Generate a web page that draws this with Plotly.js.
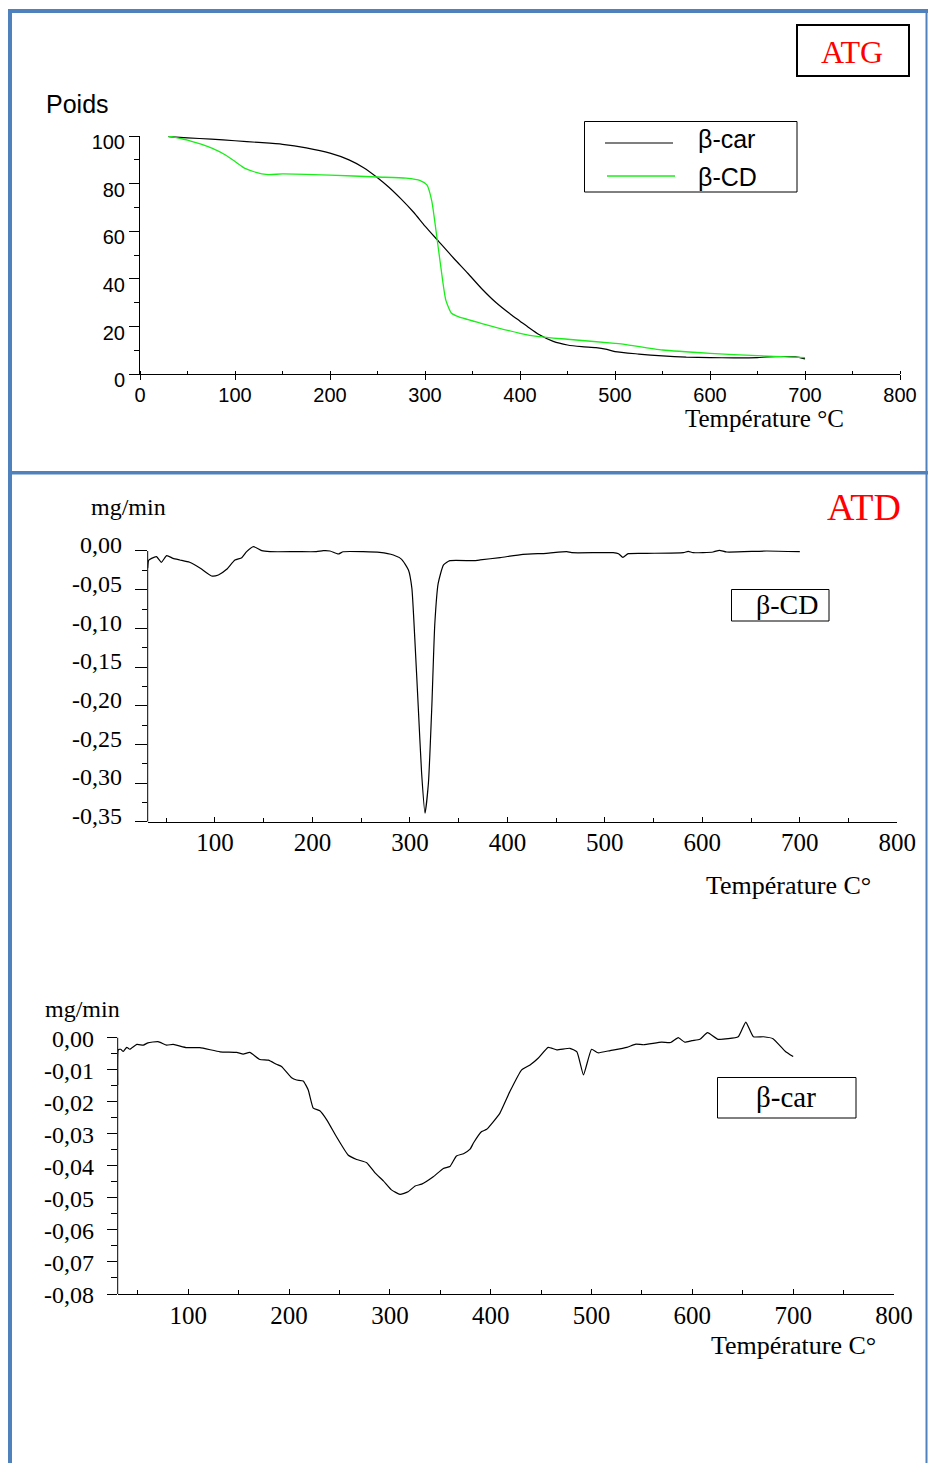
<!DOCTYPE html>
<html>
<head>
<meta charset="utf-8">
<script src="https://cdn.plot.ly/plotly-3.0.1.min.js"></script>
<style>
  html, body { margin: 0; padding: 0; background: #fff; }
  #fig { width: 928px; height: 1463px; }
</style>
</head>
<body>
<div id="fig"></div>
<script>
// ---- ATG : weight loss (%) vs temperature (°C) ----
const atgCarT = [30, 50, 75, 100, 125, 150, 175, 200, 220, 235, 250, 262, 275, 288, 300, 315, 330, 345, 360, 375, 390, 400, 410, 420, 435, 450, 465, 480, 490, 500, 525, 550, 575, 600, 625, 650, 660, 690, 700];
const atgCarW = [99.7, 99.2, 98.7, 98.0, 97.3, 96.5, 95.0, 92.8, 90.0, 86.8, 82.5, 78.5, 73.5, 68.0, 62.2, 55.5, 48.8, 42.4, 35.8, 30.0, 25.2, 22.3, 19.4, 16.7, 13.8, 12.3, 11.6, 11.2, 10.6, 9.5, 8.5, 7.7, 7.2, 7.0, 6.9, 7.0, 7.3, 7.3, 6.5];

const atgCdT = [30, 50, 75, 90, 100, 110, 120, 135, 150, 200, 250, 280, 295, 302, 307, 312, 317, 322, 328, 335, 360, 400, 420, 450, 500, 510, 550, 600, 650, 700];
const atgCdW = [100, 98.3, 95.0, 92.0, 89.3, 86.5, 85.0, 83.8, 84.1, 83.6, 82.8, 82.3, 81.3, 79.5, 73.0, 59.0, 44.0, 31.0, 25.6, 24.2, 21.3, 17.2, 15.8, 14.7, 13.0, 12.6, 10.2, 8.8, 7.8, 7.0];

const atgXTicks = [0, 100, 200, 300, 400, 500, 600, 700, 800];
const atgXLabels = ['0', '100', '200', '300', '400', '500', '600', '700', '800'];
const atgYTicks = [0, 20, 40, 60, 80, 100];
const atgYLabels = ['0', '20', '40', '60', '80', '100'];

// ---- ATD : β-CD (mg/min) ----
const atdCdT = [31, 32, 35, 40, 45, 50.5, 57, 64, 74, 85, 96.5, 103.5, 112, 120.5, 127.5, 132.5, 139.5, 148, 156.5, 184, 204, 211, 218, 226.5, 231.5, 252, 269, 283, 291.5, 298.5, 302, 305, 308.5, 312, 315.5, 319, 322.5, 325.5, 329, 334.5, 341, 365, 372, 392.5, 416, 440, 461, 466, 508.5, 514, 518.5, 524, 543, 580.5, 585.5, 590.5, 611, 617.5, 625, 666, 700];
const atdCdV = [-0.0224, -0.0120, -0.0095, -0.0073, -0.0146, -0.0060, -0.0095, -0.0116, -0.0146, -0.0224, -0.0323, -0.0310, -0.0237, -0.0116, -0.0087, -0.0009, 0.0056, 0.0004, -0.0009, -0.0009, -0.0009, 0.0004, 0.0000, -0.0039, -0.0010, -0.0009, -0.0018, -0.0052, -0.0108, -0.0246, -0.0480, -0.1130, -0.2000, -0.2870, -0.3390, -0.3000, -0.2000, -0.0950, -0.0420, -0.0180, -0.0125, -0.0125, -0.0116, -0.0085, -0.0043, -0.0030, -0.0009, -0.0022, -0.0022, -0.0035, -0.0082, -0.0035, -0.0030, -0.0022, -0.0004, -0.0022, -0.0013, 0.0009, -0.0013, 0.0000, -0.0009];

const atdCdXTicks = [100, 200, 300, 400, 500, 600, 700, 800];
const atdCdXLabels = ['100', '200', '300', '400', '500', '600', '700', '800'];
const atdCdYTicks = [0, -0.05, -0.10, -0.15, -0.20, -0.25, -0.30, -0.35];
const atdCdYLabels = ['0,00', '-0,05', '-0,10', '-0,15', '-0,20', '-0,25', '-0,30', '-0,35'];
const atdCdYMinor = [-0.025, -0.075, -0.125, -0.175, -0.225, -0.275, -0.325];

// ---- ATD : β-car (mg/min) ----
const atdCarT = [30, 30.6, 33, 35.5, 39, 42, 49, 55.5, 60, 70, 78.5, 85, 98.5, 111.5, 131.5, 148, 154.5, 161, 171, 179.5, 187.5, 192.5, 202.5, 207.5, 214, 219, 224, 230.5, 237.5, 247, 258.5, 267, 277, 285, 293.5, 301.5, 310, 318, 325, 331.5, 343, 353, 359.5, 366, 373, 379.5, 383, 391, 396, 409, 419, 430.5, 439, 447, 457, 465.5, 478.5, 485.5, 492, 500, 506.5, 518.5, 535, 544, 551.5, 569.5, 578.5, 586, 592.5, 599.5, 607.5, 615, 625.5, 645.5, 653, 660.5, 670.5, 680, 692, 700];
const atdCarV = [-0.0148, -0.0038, -0.0036, -0.0043, -0.0030, -0.0036, -0.0021, -0.0023, -0.0016, -0.0012, -0.0023, -0.0021, -0.0031, -0.0031, -0.0044, -0.0046, -0.0051, -0.0046, -0.0068, -0.0070, -0.0083, -0.0090, -0.0125, -0.0132, -0.0135, -0.0163, -0.0220, -0.0228, -0.0257, -0.0309, -0.0366, -0.0380, -0.0390, -0.0421, -0.0447, -0.0475, -0.0489, -0.0481, -0.0463, -0.0457, -0.0434, -0.0408, -0.0402, -0.0369, -0.0362, -0.0348, -0.0328, -0.0293, -0.0286, -0.0236, -0.0168, -0.0101, -0.0085, -0.0064, -0.0030, -0.0038, -0.0033, -0.0044, -0.0116, -0.0036, -0.0047, -0.0040, -0.0030, -0.0020, -0.0022, -0.0014, -0.0015, 0.0000, -0.0014, -0.0009, -0.0005, 0.0016, -0.0005, 0.0003, 0.0049, 0.0003, 0.0003, -0.0003, -0.0042, -0.0059];

const atdCarXTicks = [100, 200, 300, 400, 500, 600, 700, 800];
const atdCarXLabels = ['100', '200', '300', '400', '500', '600', '700', '800'];
const atdCarYTicks = [0, -0.01, -0.02, -0.03, -0.04, -0.05, -0.06, -0.07, -0.08];
const atdCarYLabels = ['0,00', '-0,01', '-0,02', '-0,03', '-0,04', '-0,05', '-0,06', '-0,07', '-0,08'];
const atdCarYMinor = [-0.005, -0.015, -0.025, -0.035, -0.045, -0.055, -0.065, -0.075];

// page geometry helpers (pixel -> paper fraction)
const W = 928, H = 1463;
const fx = p => p / W;
const fy = p => 1 - p / H;

const SANS = 'Liberation Sans, Arial, sans-serif';
const SERIF = 'Liberation Serif, Times New Roman, serif';
const FRAME = '#4F81BD';
const GREEN = '#19ee19';

const traces = [
  { x: atgCarT, y: atgCarW, xaxis: 'x', yaxis: 'y', mode: 'lines', name: 'β-car',
    line: { color: '#000000', width: 1.2, shape: 'spline', smoothing: 0.6 } },
  { x: atgCdT, y: atgCdW, xaxis: 'x', yaxis: 'y', mode: 'lines', name: 'β-CD',
    line: { color: GREEN, width: 1.3, shape: 'spline', smoothing: 0.6 } },
  { x: atdCdT, y: atdCdV, xaxis: 'x2', yaxis: 'y2', mode: 'lines', name: 'β-CD',
    line: { color: '#000000', width: 1.2, shape: 'spline', smoothing: 0.5 } },
  { x: atdCarT, y: atdCarV, xaxis: 'x3', yaxis: 'y3', mode: 'lines', name: 'β-car',
    line: { color: '#000000', width: 1.2, shape: 'spline', smoothing: 0.4 } }
];

const baseAxis = {
  showgrid: false, zeroline: false, fixedrange: true,
  linecolor: '#000', linewidth: 1, tickcolor: '#000', tickwidth: 1,
  tickmode: 'array'
};

const layout = {
  width: W, height: H,
  margin: { l: 0, r: 0, t: 0, b: 0 },
  paper_bgcolor: '#fff', plot_bgcolor: 'rgba(0,0,0,0)',
  showlegend: false, hovermode: false,

  // ATG
  xaxis: Object.assign({}, baseAxis, {
    domain: [fx(140), fx(900)], range: [0, 800], anchor: 'y',
    showline: true, ticks: 'outside', ticklen: 5,
    tickvals: atgXTicks, ticktext: atgXLabels,
    minor: { dtick: 50, tick0: 0, ticks: 'inside', ticklen: 3, tickcolor: '#000' },
    ticklabelstandoff: -2,
    tickfont: { family: SANS, size: 20, color: '#000' }
  }),
  yaxis: Object.assign({}, baseAxis, {
    domain: [fy(374.3), fy(136)], range: [0, 100], anchor: 'x',
    showline: true, ticks: 'outside', ticklen: 10,
    tickvals: atgYTicks, ticktext: atgYLabels,
    minor: { dtick: 10, tick0: 0, ticks: 'outside', ticklen: 5, tickcolor: '#000' },
    ticklabelshift: 6,
    tickfont: { family: SANS, size: 20, color: '#000' }
  }),

  // ATD β-CD
  xaxis2: Object.assign({}, baseAxis, {
    domain: [fx(147.7), fx(897.3)], range: [31, 800], anchor: 'y2',
    showline: true, ticks: 'inside', ticklen: 5,
    tickvals: atdCdXTicks, ticktext: atdCdXLabels,
    minor: { dtick: 50, tick0: 0, ticks: 'inside', ticklen: 4, tickcolor: '#000' },
    ticklabelstandoff: -2,
    tickfont: { family: SERIF, size: 25, color: '#000' }
  }),
  yaxis2: Object.assign({}, baseAxis, {
    domain: [fy(821.7), fy(544.8)], range: [-0.35, 0.008], anchor: 'x2',
    showline: false, ticks: 'outside', ticklen: 12,
    tickvals: atdCdYTicks, ticktext: atdCdYLabels,
    minor: { tickmode: 'array', tickvals: atdCdYMinor, ticks: 'outside', ticklen: 5, tickcolor: '#000' },
    ticklabelstandoff: 8,
    ticklabelshift: -6,
    tickfont: { family: SERIF, size: 24, color: '#000' }
  }),

  // ATD β-car
  xaxis3: Object.assign({}, baseAxis, {
    domain: [fx(117.7), fx(894)], range: [30, 800], anchor: 'y3',
    showline: true, ticks: 'inside', ticklen: 5,
    tickvals: atdCarXTicks, ticktext: atdCarXLabels,
    minor: { dtick: 50, tick0: 0, ticks: 'inside', ticklen: 4, tickcolor: '#000' },
    ticklabelstandoff: -1,
    tickfont: { family: SERIF, size: 25, color: '#000' }
  }),
  yaxis3: Object.assign({}, baseAxis, {
    domain: [fy(1294), fy(1016.9)], range: [-0.08, 0.0065], anchor: 'x3',
    showline: false, ticks: 'outside', ticklen: 10,
    tickvals: atdCarYTicks, ticktext: atdCarYLabels,
    minor: { tickmode: 'array', tickvals: atdCarYMinor, ticks: 'outside', ticklen: 6, tickcolor: '#000' },
    ticklabelstandoff: 8,
    ticklabelshift: 1,
    tickfont: { family: SERIF, size: 24, color: '#000' }
  }),

  shapes: [
    // page frame
    { type: 'rect', xref: 'paper', yref: 'paper', x0: fx(8), x1: fx(12), y0: fy(1463), y1: fy(9), fillcolor: FRAME, line: { width: 0 } },
    { type: 'rect', xref: 'paper', yref: 'paper', x0: fx(8), x1: fx(928), y0: fy(13), y1: fy(9), fillcolor: FRAME, line: { width: 0 } },
    { type: 'rect', xref: 'paper', yref: 'paper', x0: fx(8), x1: fx(928), y0: fy(474.5), y1: fy(471), fillcolor: FRAME, line: { width: 0 } },
    { type: 'rect', xref: 'paper', yref: 'paper', x0: fx(925.5), x1: fx(927.5), y0: fy(1463), y1: fy(9), fillcolor: FRAME, line: { width: 0 } },

    // ATG badge
    { type: 'rect', xref: 'paper', yref: 'paper', x0: fx(797), x1: fx(909), y0: fy(76), y1: fy(25), line: { color: '#000', width: 2 } },

    // ATG legend
    { type: 'rect', xref: 'paper', yref: 'paper', x0: fx(584.5), x1: fx(797), y0: fy(192), y1: fy(121.5), line: { color: '#000', width: 1 } },
    { type: 'line', xref: 'paper', yref: 'paper', x0: fx(605), x1: fx(673), y0: fy(143), y1: fy(143), line: { color: '#000', width: 1.2 } },
    { type: 'line', xref: 'paper', yref: 'paper', x0: fx(607), x1: fx(675), y0: fy(176), y1: fy(176), line: { color: GREEN, width: 1.5 } },

    // y axis lines of the ATD plots (from 0 down to the bottom of the scale)
    { type: 'line', xref: 'paper', yref: 'y2', x0: fx(147.7), x1: fx(147.7), y0: -0.35, y1: 0, line: { color: '#000', width: 1 } },
    { type: 'line', xref: 'paper', yref: 'y3', x0: fx(117.7), x1: fx(117.7), y0: -0.08, y1: 0, line: { color: '#000', width: 1 } },

    // sample name boxes
    { type: 'rect', xref: 'paper', yref: 'paper', x0: fx(731.5), x1: fx(829), y0: fy(621), y1: fy(589.5), line: { color: '#000', width: 1 } },
    { type: 'rect', xref: 'paper', yref: 'paper', x0: fx(717.5), x1: fx(856), y0: fy(1118), y1: fy(1077.5), line: { color: '#000', width: 1 } }
  ],

  annotations: [
    { text: 'ATG', xref: 'paper', yref: 'paper', x: fx(852), y: fy(52), xanchor: 'center', yanchor: 'middle', showarrow: false,
      font: { family: SERIF, size: 32, color: '#ff0000' } },
    { text: 'Poids', xref: 'paper', yref: 'paper', x: fx(44), y: fy(104), xanchor: 'left', yanchor: 'middle', showarrow: false,
      font: { family: SANS, size: 25, color: '#000' } },
    { text: 'β-car', xref: 'paper', yref: 'paper', x: fx(696), y: fy(139), xanchor: 'left', yanchor: 'middle', showarrow: false,
      font: { family: SANS, size: 25, color: '#000' } },
    { text: 'β-CD', xref: 'paper', yref: 'paper', x: fx(696), y: fy(177), xanchor: 'left', yanchor: 'middle', showarrow: false,
      font: { family: SANS, size: 25, color: '#000' } },
    { text: 'Température °C', xref: 'paper', yref: 'paper', x: fx(764), y: fy(418), xanchor: 'center', yanchor: 'middle', showarrow: false,
      font: { family: SERIF, size: 25, color: '#000' } },

    { text: 'mg/min', xref: 'paper', yref: 'paper', x: fx(128), y: fy(507), xanchor: 'center', yanchor: 'middle', showarrow: false,
      font: { family: SERIF, size: 24, color: '#000' } },
    { text: 'ATD', xref: 'paper', yref: 'paper', x: fx(864), y: fy(507), xanchor: 'center', yanchor: 'middle', showarrow: false,
      font: { family: SERIF, size: 38, color: '#ff0000' } },
    { text: 'β-CD', xref: 'paper', yref: 'paper', x: fx(787), y: fy(604), xanchor: 'center', yanchor: 'middle', showarrow: false,
      font: { family: SERIF, size: 28, color: '#000' } },
    { text: 'Température C°', xref: 'paper', yref: 'paper', x: fx(788), y: fy(886), xanchor: 'center', yanchor: 'middle', showarrow: false,
      font: { family: SERIF, size: 26, color: '#000' } },

    { text: 'mg/min', xref: 'paper', yref: 'paper', x: fx(82.5), y: fy(1009), xanchor: 'center', yanchor: 'middle', showarrow: false,
      font: { family: SERIF, size: 24, color: '#000' } },
    { text: 'β-car', xref: 'paper', yref: 'paper', x: fx(786), y: fy(1097), xanchor: 'center', yanchor: 'middle', showarrow: false,
      font: { family: SERIF, size: 29, color: '#000' } },
    { text: 'Température C°', xref: 'paper', yref: 'paper', x: fx(793), y: fy(1345), xanchor: 'center', yanchor: 'middle', showarrow: false,
      font: { family: SERIF, size: 26, color: '#000' } }
  ]
};

Plotly.newPlot('fig', traces, layout, { staticPlot: true, displayModeBar: false });
</script>
</body>
</html>
